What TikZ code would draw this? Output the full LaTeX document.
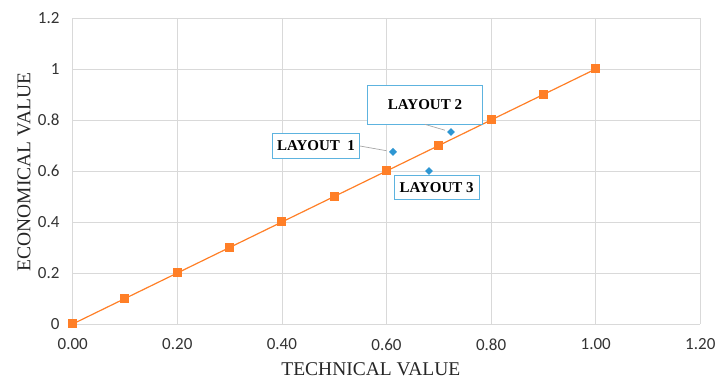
\documentclass[tikz,border=0pt]{standalone}
\usepackage{fontspec}
\setmainfont{Liberation Serif}
\newfontfamily\tickfont{Carlito}
\usetikzlibrary{shapes.geometric}
\definecolor{gridgray}{HTML}{D9D9D9}
\definecolor{serorange}{HTML}{FF7F27}
\definecolor{serblue}{HTML}{2E96D2}
\definecolor{boxblue}{HTML}{5DB3DF}
\definecolor{leadgray}{HTML}{A6A6A6}
\tikzset{
  osq/.style={fill=serorange, minimum size=9pt, inner sep=0pt},
  bdia/.style={diamond, fill=serblue, minimum size=8pt, inner sep=0pt},
  laybox/.style={draw=boxblue, line width=0.8pt, inner sep=0pt, fill=white,
    font=\fontsize{15}{15}\selectfont\bfseries},
  ticklab/.style={inner sep=0pt, text=black!80, font=\tickfont\fontsize{17}{17}\selectfont},
  axtitle/.style={inner sep=0pt, text=black!85, font=\fontsize{19.5}{19.5}\selectfont}
}
\begin{document}
\begin{tikzpicture}[x=523pt, y=255pt]
			\useasboundingbox (-0.1390, -0.22353) rectangle (1.2319, 1.27059);
			% grid
			\foreach \i in {0,...,6}{
				\draw[gridgray, line width=0.8pt] (\i*0.2, 0) -- (\i*0.2, 1.2);
				\draw[gridgray, line width=0.8pt] (0, \i*0.2) -- (1.2, \i*0.2);
			}
			% tick labels
			\node[ticklab] (x0) at (0, -0.0800) {0.00};
			\node[ticklab] (x1) at (0.2, -0.0800) {0.20};
			\node[ticklab] (x2) at (0.4, -0.0800) {0.40};
			\node[ticklab] (x3) at (0.6, -0.0800) {0.60};
			\node[ticklab] (x4) at (0.8, -0.0800) {0.80};
			\node[ticklab] (x5) at (1.0, -0.0800) {1.00};
			\node[ticklab] (x6) at (1.2, -0.0800) {1.20};
			\node[ticklab, anchor=east] (y0) at (-0.025, 0) {0};
			\node[ticklab, anchor=east] (y1) at (-0.025, 0.2) {0.2};
			\node[ticklab, anchor=east] (y2) at (-0.025, 0.4) {0.4};
			\node[ticklab, anchor=east] (y3) at (-0.025, 0.6) {0.6};
			\node[ticklab, anchor=east] (y4) at (-0.025, 0.8) {0.8};
			\node[ticklab, anchor=east] (y5) at (-0.025, 1.0) {1};
			\node[ticklab, anchor=east] (y6) at (-0.025, 1.2) {1.2};
			% axis titles
			\node[axtitle] (xtitle) at (0.570, -0.176) {TECHNICAL VALUE};
			\node[axtitle, rotate=90] (ytitle) at (-0.0930, 0.596) {ECONOMICAL VALUE};
			% orange series
			\foreach \i in {0,...,10}
				\coordinate (p\i) at (\i/10, \i/10);
			\draw[serorange, line width=1.2pt] (p0) -- (p10);
			\foreach \i in {0,...,10}
				\node[osq] (s\i) at (p\i) {};
			% layouts
			\node[bdia] (d1) at (0.6124, 0.675) {};
			\node[bdia] (d2) at (0.7233, 0.753) {};
			\node[bdia] (d3) at (0.6813, 0.600) {};
			\node[laybox, minimum width=87pt, minimum height=25pt] (lay1) at (0.4652, 0.6980) {LAYOUT\ \ 1};
			\node[laybox, minimum width=115pt, minimum height=39pt] (lay2) at (0.6736, 0.8608) {LAYOUT 2};
			\node[laybox, minimum width=85pt, minimum height=24pt] (lay3) at (0.6960, 0.5353) {LAYOUT 3};
			\draw[leadgray, line width=0.7pt, shorten >=3pt] (lay1.east) -- (d1);
			\draw[leadgray, line width=0.7pt, shorten >=3pt] (lay2.south) -- (d2);
\end{tikzpicture}
\end{document}
